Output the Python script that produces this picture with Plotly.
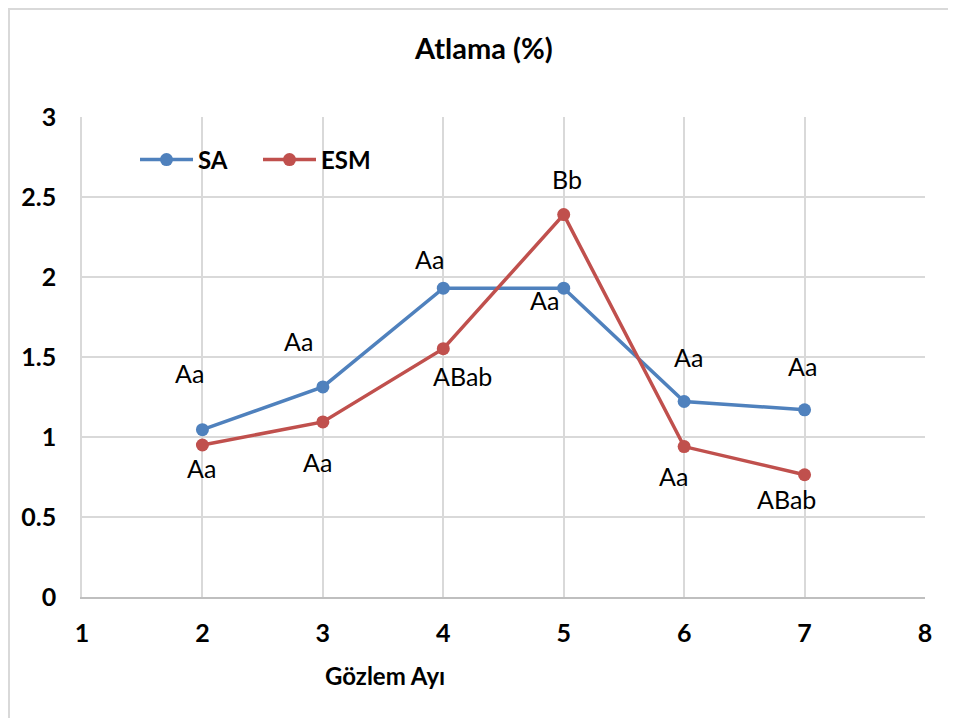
import plotly.graph_objects as go

months = [2, 3, 4, 5, 6, 7]
sa_values = [1.046, 1.313, 1.93, 1.93, 1.222, 1.17]
esm_values = [0.95, 1.094, 1.552, 2.39, 0.94, 0.764]
sa_labels = ["Aa", "Aa", "Aa", "Aa", "Aa", "Aa"]
esm_labels = ["Aa", "Aa", "ABab", "Bb", "Aa", "ABab"]
x_ticks = [1, 2, 3, 4, 5, 6, 7, 8]
y_ticks = [0, 0.5, 1, 1.5, 2, 2.5, 3]

# label offsets (pixels) relative to points
sa_off = [(-13, 57), (-24, 46), (-14, 29), (-19, -12), (4, 44), (-2, 44)]
esm_off = [(-1, -23), (-5, -40), (19, -27), (3, 36), (-11, -29), (-18, -24)]

BLUE = "#4F81BD"
RED = "#C0504D"
FONT = "Lato"

# page body has an 8px margin; target pixel positions in the screenshot
OFF = 8
PL, PR, PT, PB = 82, 925, 117, 597
W, H = 956 - OFF, 718 - OFF
pw, ph = PR - PL, PB - PT


def px(xp):
    return (xp - PL) / pw


def py(yp):
    return (PB - yp) / ph


fig = go.Figure()
fig.add_trace(go.Scatter(x=months, y=sa_values, mode="lines+markers", name="<b>SA</b>",
                         line=dict(color=BLUE, width=3.5), marker=dict(size=13, color=BLUE)))
fig.add_trace(go.Scatter(x=months, y=esm_values, mode="lines+markers", name="<b>ESM</b>",
                         line=dict(color=RED, width=3.5), marker=dict(size=13, color=RED)))

annotations = []
for xs, ys, labs, offs in [(months, sa_values, sa_labels, sa_off), (months, esm_values, esm_labels, esm_off)]:
    for x, y, t, (dx, dy) in zip(xs, ys, labs, offs):
        annotations.append(dict(x=x, y=y, text=t, showarrow=False, xshift=dx, yshift=dy,
                                xanchor="center", yanchor="middle",
                                font=dict(family=FONT, size=25, color="#000000")))

annotations.append(dict(x=px(483), y=py(48), xref="paper", yref="paper",
                        xanchor="center", yanchor="middle",
                        text="<b>Atlama (%)</b>", showarrow=False,
                        font=dict(family=FONT, size=29, color="#000000")))
annotations.append(dict(x=px(385), y=py(675), xref="paper", yref="paper",
                        xanchor="center", yanchor="middle",
                        text="<b>Gözlem Ayı</b>", showarrow=False,
                        font=dict(family=FONT, size=24, color="#000000")))

fig.update_layout(
    width=W, height=H,
    margin=dict(l=PL - OFF, r=956 - PR, t=PT - OFF, b=718 - PB, pad=0),
    paper_bgcolor="white", plot_bgcolor="white",
    font=dict(family=FONT, color="#000000"),
    annotations=annotations,
    showlegend=True,
    legend=dict(orientation="h", x=px(135), y=py(160), xanchor="left", yanchor="middle",
                font=dict(family=FONT, size=24, color="#000000"), bgcolor="rgba(0,0,0,0)",
                itemwidth=53, entrywidth=55, entrywidthmode="pixels", tracegroupgap=0),
    xaxis=dict(range=[1, 8], tickvals=x_ticks, ticktext=[f"<b>{v}</b>" for v in x_ticks],
               showgrid=True, gridcolor="#d9d9d9", gridwidth=1.5, zeroline=False,
               showline=True, linecolor="#bfbfbf", linewidth=1.5, ticks="", ticklabelstandoff=13,
               tickfont=dict(family=FONT, size=25, color="#000000")),
    yaxis=dict(range=[0, 3], tickvals=y_ticks, ticktext=[f"<b>{v:g}</b>" for v in y_ticks],
               showgrid=True, gridcolor="#d9d9d9", gridwidth=1.5, zeroline=False,
               showline=True, linecolor="#d9d9d9", linewidth=1.5, ticks="", ticklabelstandoff=19,
               tickfont=dict(family=FONT, size=25, color="#000000")),
    shapes=[dict(type="rect", xref="paper", yref="paper",
                 x0=px(OFF + 1), x1=1.3, y0=-0.6, y1=py(OFF + 1),
                 line=dict(color="#d9d9d9", width=2), layer="below")],
)

fig.write_html("out.html")
